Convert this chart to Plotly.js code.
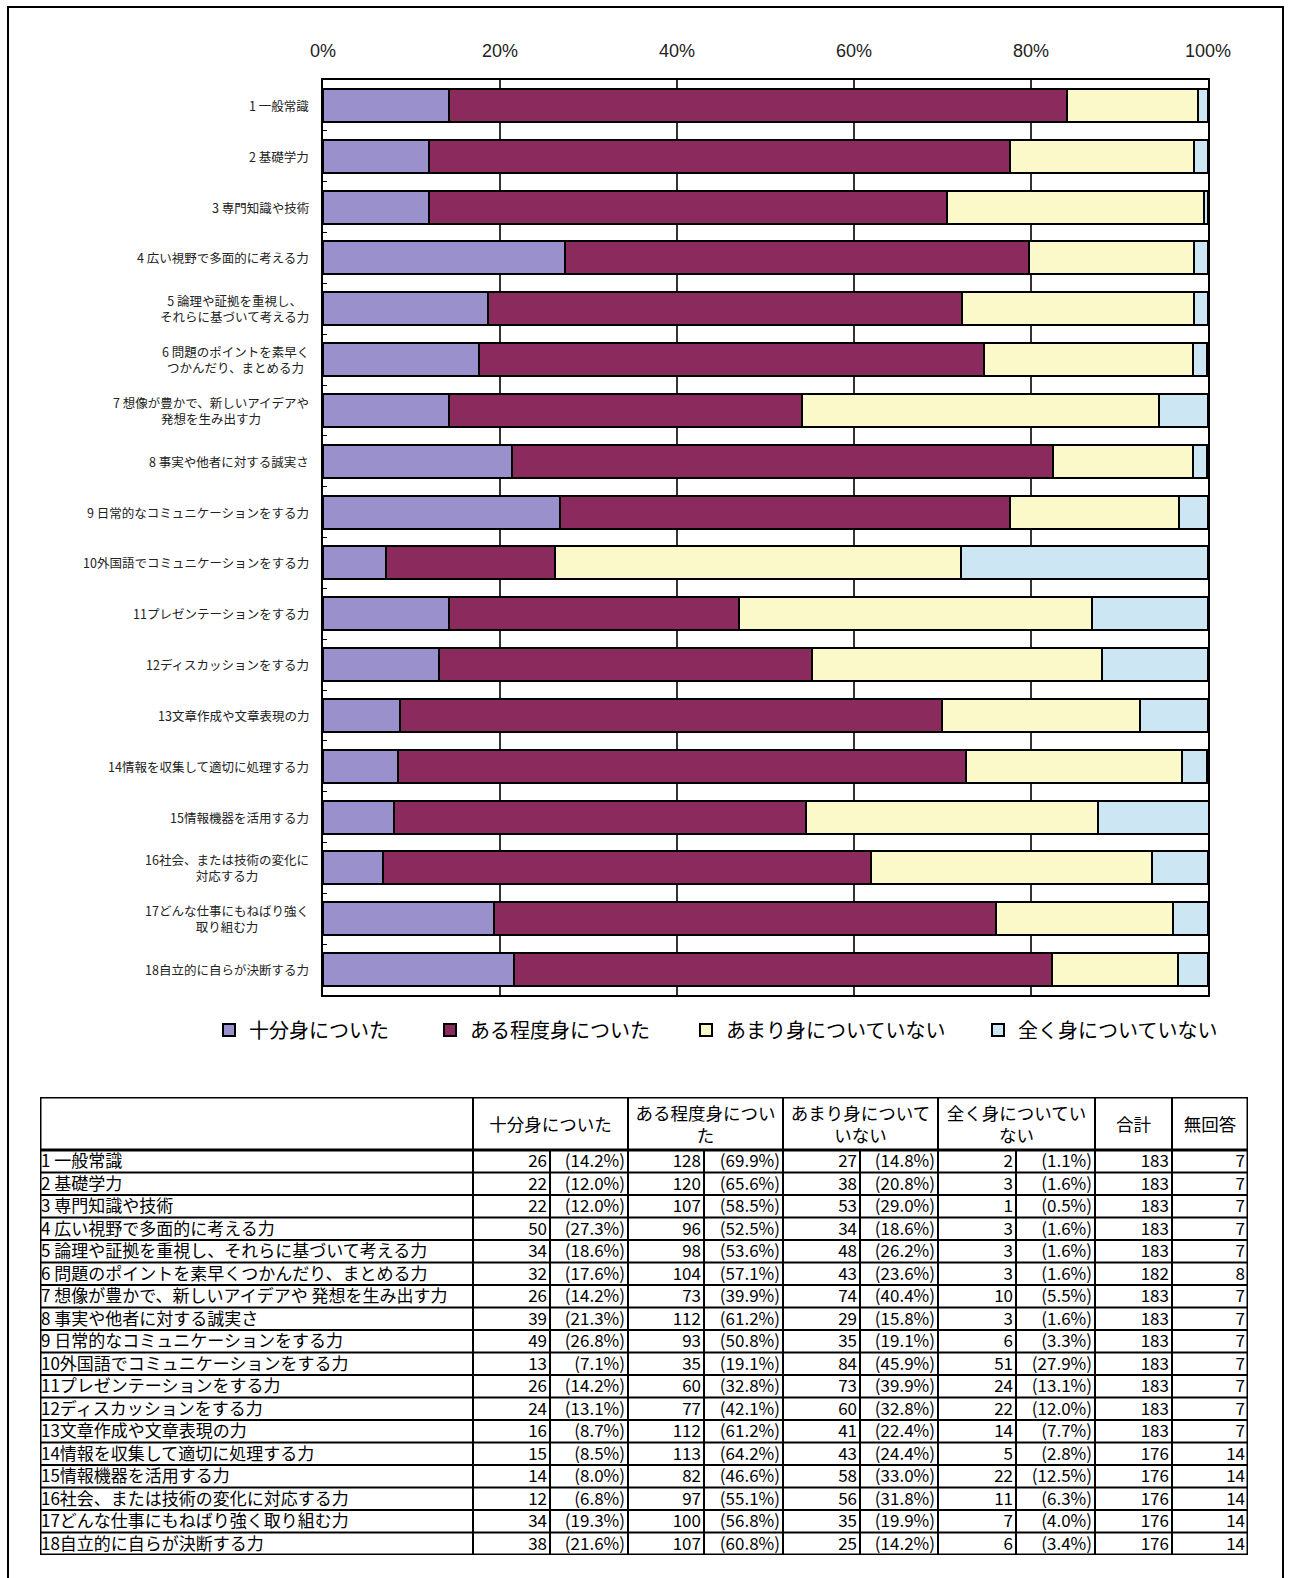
<!DOCTYPE html>
<html><head><meta charset="utf-8">
<script src="https://cdn.plot.ly/plotly-3.0.1.min.js"></script>
<style>html,body{margin:0;padding:0;background:#fff}#chart{width:1292px;height:1578px}</style>
</head><body><div id="chart"></div>
<script>
// ---------- data ----------
const chartLabels = [
  '1 一般常識','2 基礎学力','3 専門知識や技術','4 広い視野で多面的に考える力',
  '5 論理や証拠を重視し、<br>それらに基づいて考える力','6 問題のポイントを素早く<br>つかんだり、まとめる力',
  '7 想像が豊かで、新しいアイデアや<br>発想を生み出す力','8 事実や他者に対する誠実さ',
  '9 日常的なコミュニケーションをする力','10外国語でコミュニケーションをする力',
  '11プレゼンテーションをする力','12ディスカッションをする力','13文章作成や文章表現の力',
  '14情報を収集して適切に処理する力','15情報機器を活用する力','16社会、または技術の変化に<br>対応する力',
  '17どんな仕事にもねばり強く<br>取り組む力','18自立的に自らが決断する力'
];
const tableLabels = [
  '1 一般常識','2 基礎学力','3 専門知識や技術','4 広い視野で多面的に考える力',
  '5 論理や証拠を重視し、それらに基づいて考える力','6 問題のポイントを素早くつかんだり、まとめる力',
  '7 想像が豊かで、新しいアイデアや 発想を生み出す力','8 事実や他者に対する誠実さ',
  '9 日常的なコミュニケーションをする力','10外国語でコミュニケーションをする力',
  '11プレゼンテーションをする力','12ディスカッションをする力','13文章作成や文章表現の力',
  '14情報を収集して適切に処理する力','15情報機器を活用する力','16社会、または技術の変化に対応する力',
  '17どんな仕事にもねばり強く取り組む力','18自立的に自らが決断する力'
];
const seriesNames = ['十分身についた','ある程度身についた','あまり身についていない','全く身についていない'];
const tableHeaders = ['十分身についた','ある程度身につい<br>た','あまり身について<br>いない','全く身についてい<br>ない','合計','無回答'];
const xTickVals = [0,20,40,60,80,100];
const xTickText = ['0%','20%','40%','60%','80%','100%'];

const cnt1 = [26,22,22,50,34,32,26,39,49,13,26,24,16,15,14,12,34,38];
const pct1 = [14.2,12.0,12.0,27.3,18.6,17.6,14.2,21.3,26.8,7.1,14.2,13.1,8.7,8.5,8.0,6.8,19.3,21.6];
const cnt2 = [128,120,107,96,98,104,73,112,93,35,60,77,112,113,82,97,100,107];
const pct2 = [69.9,65.6,58.5,52.5,53.6,57.1,39.9,61.2,50.8,19.1,32.8,42.1,61.2,64.2,46.6,55.1,56.8,60.8];
const cnt3 = [27,38,53,34,48,43,74,29,35,84,73,60,41,43,58,56,35,25];
const pct3 = [14.8,20.8,29.0,18.6,26.2,23.6,40.4,15.8,19.1,45.9,39.9,32.8,22.4,24.4,33.0,31.8,19.9,14.2];
const cnt4 = [2,3,1,3,3,3,10,3,6,51,24,22,14,5,22,11,7,6];
const pct4 = [1.1,1.6,0.5,1.6,1.6,1.6,5.5,1.6,3.3,27.9,13.1,12.0,7.7,2.8,12.5,6.3,4.0,3.4];
const totals = [183,183,183,183,183,182,183,183,183,183,183,183,183,176,176,176,176,176];
const noAnswer = [7,7,7,7,7,8,7,7,7,7,7,7,7,14,14,14,14,14];

// ---------- style / layout constants ----------
const colors = ['#9a90cc','#8b2a5c','#fbf8c9','#cde6f4'];
const W = 1292, H = 1578;
const FONT = '"Noto Sans CJK JP", "Noto Sans", sans-serif';
const plotL = 323, plotR = 1208, plotT = 80, plotB = 995;
const tabL = 40, tabR = 1248, tabT = 1097;
const headH = 53, rowH = 22.5;
const colEdges = [0,433,510,588,664,743,820,898,976,1055,1132,1208];
const legendTextX = [251, 472, 728, 1020];
const legendY = 1030;

const cnts = [cnt1,cnt2,cnt3,cnt4];
const pcts = [pct1,pct2,pct3,pct4];
const cats = chartLabels.map((_, i) => i);
const tabH = headH + rowH * tableLabels.length;

const traces = [];
seriesNames.forEach((name, s) => {
  traces.push({
    type: 'bar', orientation: 'h', name: name,
    y: cats, x: pcts[s],
    marker: {color: colors[s], line: {color: '#000', width: 2}},
    legend: s === 0 ? 'legend' : 'legend' + (s + 1),
    hoverinfo: 'skip', xaxis: 'x', yaxis: 'y'
  });
});

// table text
const rowMid = r => headH + rowH * (r + 0.5) + 1.5;
const lblX = [], lblY = [], lblT = [];
const numX = [], numY = [], numT = [];
tableLabels.forEach((t, r) => {
  lblX.push(1); lblY.push(rowMid(r)); lblT.push(t);
  const vals = [];
  for (let s = 0; s < 4; s++) {
    vals.push(String(cnts[s][r]));
    vals.push('(' + pcts[s][r].toFixed(1) + '%)');
  }
  vals.push(String(totals[r]));
  vals.push(String(noAnswer[r]));
  vals.forEach((v, c) => { numX.push(colEdges[c + 2] - 3); numY.push(rowMid(r)); numT.push(v); });
});
traces.push({type:'scatter', mode:'text', x:lblX, y:lblY, text:lblT, textposition:'middle right',
  textfont:{family:FONT, size:17, color:'#000'}, xaxis:'x2', yaxis:'y2', showlegend:false, hoverinfo:'skip', cliponaxis:false});
traces.push({type:'scatter', mode:'text', x:numX, y:numY, text:numT, textposition:'middle left',
  textfont:{family:FONT, size:17, color:'#000'}, xaxis:'x2', yaxis:'y2', showlegend:false, hoverinfo:'skip', cliponaxis:false});
// header text
const hX = [], hY = [], hT = [];
tableHeaders.forEach((t, k) => {
  let x0, x1;
  if (k < 4) { x0 = colEdges[1 + 2*k]; x1 = colEdges[3 + 2*k]; }
  else { x0 = colEdges[9 + (k - 4)]; x1 = colEdges[10 + (k - 4)]; }
  hX.push((x0 + x1) / 2); hY.push(headH / 2 + 3); hT.push(t);
});
traces.push({type:'scatter', mode:'text', x:hX, y:hY, text:hT, textposition:'middle center',
  textfont:{family:FONT, size:17.5, color:'#000'}, xaxis:'x2', yaxis:'y2', showlegend:false, hoverinfo:'skip', cliponaxis:false});

// shapes
const shapes = [];
const ln = (x0,y0,x1,y1,w) => shapes.push({type:'line', xref:'x2', yref:'y2', x0, y0, x1, y1, line:{color:'#000', width:w}});
ln(0,0,colEdges[colEdges.length-1],0,3);
ln(0,headH,colEdges[colEdges.length-1],headH,3);
for (let r = 1; r <= tableLabels.length; r++) {
  const y = headH + rowH * r;
  ln(0, y, colEdges[colEdges.length-1], y, r === tableLabels.length ? 3 : 2);
}
colEdges.forEach((x, c) => {
  const inner = (c === 2 || c === 4 || c === 6 || c === 8);
  const outer = (c === 0 || c === colEdges.length - 1);
  ln(x, inner ? headH : 0, x, tabH, outer ? 3 : 2);
});
// page frame (left, top, right)
shapes.push({type:'rect', xref:'paper', yref:'paper', x0:8/W, x1:1283/W, y0:-0.02, y1:1-7/H,
  line:{color:'#000', width:2}, fillcolor:'rgba(0,0,0,0)'});

// y labels as annotations
const annotations = chartLabels.map((t, i) => ({
  xref:'paper', yref:'y', x:(plotL - 12)/W, y:i, xanchor:'right', yanchor:'middle', align:'center',
  text:t, showarrow:false, font:{family:FONT, size:12.5, color:'#222'}
}));

const legendBase = (k) => ({
  orientation:'h', x:(legendTextX[k] - 42)/W, y:1 - legendY/H, xanchor:'left', yanchor:'middle',
  font:{family:FONT, size:20, color:'#000'}, bgcolor:'rgba(0,0,0,0)', itemclick:false, itemdoubleclick:false
});

const layout = {
  width: W, height: H,
  margin: {l:0, r:0, t:0, b:0},
  paper_bgcolor:'#fff', plot_bgcolor:'#fff',
  barmode:'stack', bargap:0.35,
  showlegend:true, hovermode:false,
  font:{family:FONT, color:'#000'},
  xaxis: {
    domain:[plotL/W, plotR/W], range:[0,100], side:'top', anchor:'y',
    tickvals:xTickVals, ticktext:xTickText, ticks:'', ticklabelstandoff:14,
    tickfont:{family:'"Liberation Sans Narrow", "Liberation Sans", Arial, sans-serif', size:18, color:'#222'},
    showgrid:true, gridcolor:'#333', gridwidth:1.5, zeroline:false,
    showline:true, mirror:true, linecolor:'#000', linewidth:2, fixedrange:true
  },
  yaxis: {
    domain:[1 - plotB/H, 1 - plotT/H], anchor:'x', type:'linear',
    range:[chartLabels.length - 0.5, -0.5],
    tickvals: cats.map(v => v + 0.5).slice(0, -1), ticks:'inside', ticklen:4, tickcolor:'#000',
    showticklabels:false, showgrid:false, zeroline:false,
    showline:true, mirror:true, linecolor:'#000', linewidth:2, fixedrange:true
  },
  xaxis2: {domain:[tabL/W, tabR/W], range:[0, colEdges[colEdges.length-1]], anchor:'y2', visible:false, fixedrange:true},
  yaxis2: {domain:[1 - (tabT + tabH)/H, 1 - tabT/H], range:[tabH, 0], anchor:'x2', visible:false, fixedrange:true},
  legend: legendBase(0), legend2: legendBase(1), legend3: legendBase(2), legend4: legendBase(3),
  shapes: shapes, annotations: annotations
};

Plotly.newPlot('chart', traces, layout, {staticPlot:true, displayModeBar:false});
</script>
</body></html>
